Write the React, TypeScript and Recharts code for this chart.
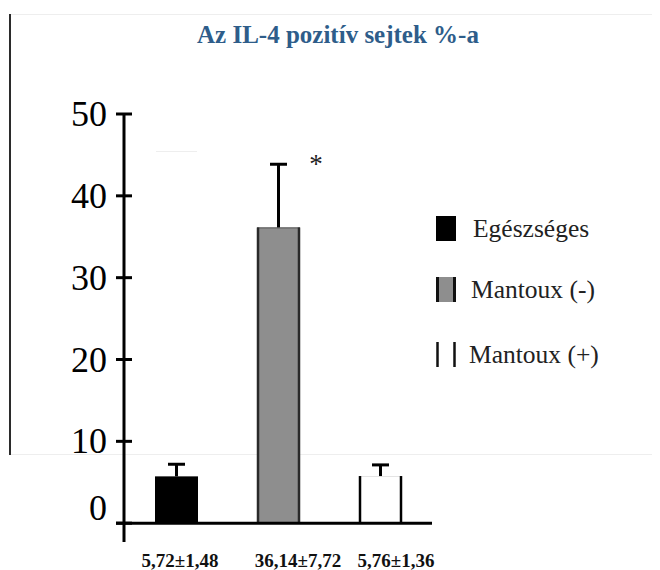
import { BarChart, Bar, XAxis, YAxis, Legend, ReferenceLine } from 'recharts';

const groups = ['Egészséges', 'Mantoux (-)', 'Mantoux (+)'];
const means = [5.72, 36.14, 5.76];
const sems = [1.48, 7.72, 1.36];
const valueLabels = ['5,72±1,48', '36,14±7,72', '5,76±1,36'];
const marks = ['', '*', ''];
const yTicks = [0, 10, 20, 30, 40, 50];

const data = groups.map((g, i) => ({
  group: g,
  label: valueLabels[i],
  mean: means[i],
  sem: sems[i],
  mark: marks[i],
}));

const serif = "'Liberation Serif', 'Times New Roman', serif";
const labelShift = [4, 20, 16];

const BarShape = (props: any) => {
  const { x, y, width, height, payload } = props;
  const i = groups.indexOf(payload.group);
  const pxPer = height / payload.mean;
  const errTop = y - payload.sem * pxPer;
  const cx = x + width / 2;
  return (
    <g>
      {i === 0 && <rect x={x} y={y} width={width} height={height} fill="#000" />}
      {i === 1 && (
        <g>
          <rect x={x} y={y} width={width} height={height} fill="#8e8e8e" />
          <line x1={x} x2={x + width} y1={y + 0.5} y2={y + 0.5} stroke="#555" strokeWidth={1} />
          <line x1={x + 1} x2={x + 1} y1={y} y2={y + height} stroke="#2a2a2a" strokeWidth={2.5} />
          <line x1={x + width - 1} x2={x + width - 1} y1={y} y2={y + height} stroke="#2a2a2a" strokeWidth={2.5} />
        </g>
      )}
      {i === 2 && (
        <g>
          <rect x={x} y={y} width={width} height={height} fill="#fff" />
          <line x1={x} x2={x + width} y1={y + 0.5} y2={y + 0.5} stroke="#e4e4e4" strokeWidth={1} />
          <line x1={x + 1} x2={x + 1} y1={y} y2={y + height} stroke="#000" strokeWidth={2.5} />
          <line x1={x + width - 1} x2={x + width - 1} y1={y} y2={y + height} stroke="#000" strokeWidth={2.5} />
        </g>
      )}
      <line x1={cx} x2={cx} y1={y} y2={errTop} stroke="#000" strokeWidth={3} />
      <line x1={cx - 8.5} x2={cx + 8.5} y1={errTop} y2={errTop} stroke="#000" strokeWidth={3} />
      {payload.mark && (
        <text x={x + width + 16} y={errTop + 9} textAnchor="middle" fontSize={27} fontFamily={serif} fill="#222">
          {payload.mark}
        </text>
      )}
    </g>
  );
};

const YTick = ({ x, y, payload }: any) => (
  <g>
    <line x1={x - 8} x2={x + 8} y1={y} y2={y} stroke="#000" strokeWidth={3} />
    <text
      x={x - 17}
      y={payload.value === 0 ? y - 3 : y + 12}
      textAnchor="end"
      fontSize={36}
      fontFamily={serif}
      fill="#000"
    >
      {payload.value}
    </text>
  </g>
);

const XTick = ({ x, y, payload, index }: any) => (
  <text
    x={x + labelShift[index]}
    y={y + 25}
    textAnchor="middle"
    fontSize={19}
    fontWeight="bold"
    fontFamily={serif}
    fill="#111"
  >
    {payload.value}
  </text>
);

const legendRows = [
  { top: 16, textX: 45, base: 37 },
  { top: 77, textX: 43, base: 98 },
  { top: 142, textX: 41, base: 163 },
];

const LegendContent = () => (
  <svg width={220} height={180}>
    {groups.map((g, i) => {
      const r = legendRows[i];
      return (
        <g key={g}>
          {i === 0 && <rect x={8} y={r.top} width={20} height={25} fill="#000" />}
          {i === 1 && (
            <g>
              <rect x={8} y={r.top} width={20} height={25} fill="#8e8e8e" />
              <line x1={9.5} x2={9.5} y1={r.top} y2={r.top + 25} stroke="#111" strokeWidth={3} />
              <line x1={26.5} x2={26.5} y1={r.top} y2={r.top + 25} stroke="#111" strokeWidth={3} />
            </g>
          )}
          {i === 2 && (
            <g>
              <line x1={9.5} x2={9.5} y1={r.top} y2={r.top + 25} stroke="#111" strokeWidth={2.5} />
              <line x1={26.5} x2={26.5} y1={r.top} y2={r.top + 25} stroke="#111" strokeWidth={2.5} />
            </g>
          )}
          <text x={r.textX} y={r.base} fontSize={25.5} fontFamily={serif} fill="#222">
            {g}
          </text>
        </g>
      );
    })}
  </svg>
);

const line = (style: React.CSSProperties) => <div style={{ position: 'absolute', ...style }} />;

export default function App() {
  return (
    <div style={{ position: 'relative', width: 652, height: 562 }}>
      {line({ left: 1, top: 6, width: 651, height: 1, background: '#eeeeee' })}
      {line({ left: 1, top: 446, width: 651, height: 1, background: '#eeeeee' })}
      {line({ left: 148, top: 143, width: 41, height: 1, background: '#eeeeee' })}
      {line({ left: 1, top: 6, width: 2, height: 441, background: '#2b2b2b' })}
      <div
        style={{
          position: 'absolute',
          left: 0,
          width: 660,
          top: 15,
          textAlign: 'center',
          fontFamily: serif,
          fontWeight: 'bold',
          fontSize: 25,
          color: '#2e5d8a',
          lineHeight: '24px',
        }}
      >
        Az IL-4 pozitív sejtek %-a
      </div>
      <BarChart
        width={652}
        height={562}
        data={data}
        margin={{ top: 106, right: 229, bottom: 0, left: 16 }}
        style={{ position: 'absolute', left: 0, top: 0 }}
      >
        <XAxis
          dataKey="label"
          axisLine={false}
          tickLine={false}
          tickSize={0}
          tickMargin={0}
          height={28}
          padding={{ left: 1, right: 0 }}
          tick={<XTick />}
          interval={0}
        />
        <YAxis
          domain={[-2.3, 50]}
          ticks={yTicks}
          width={100}
          axisLine={{ stroke: '#000', strokeWidth: 3 }}
          tickLine={false}
          tickSize={0}
          tickMargin={0}
          tick={<YTick />}
          interval={0}
        />
        <Legend
          layout="horizontal"
          align="center"
          verticalAlign="middle"
          wrapperStyle={{ left: 420, top: 192, width: 220, height: 180 }}
          content={<LegendContent />}
        />
        <Bar dataKey="mean" barSize={43} shape={<BarShape />} isAnimationActive={false} />
        <ReferenceLine
          y={0}
          shape={(p: any) => (
            <line x1={p.x1 - 8} x2={p.x2 + 1} y1={p.y1} y2={p.y2} stroke="#000" strokeWidth={3} />
          )}
        />
      </BarChart>
    </div>
  );
}
